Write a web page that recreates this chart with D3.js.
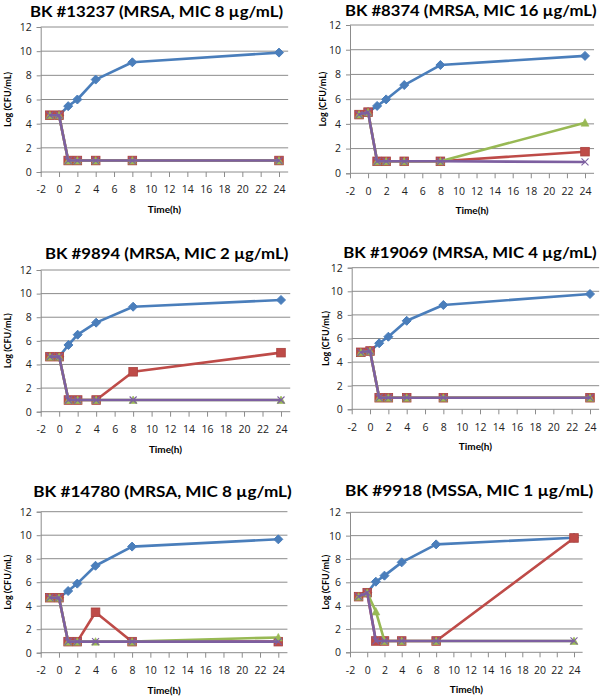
<!DOCTYPE html>
<html><head><meta charset="utf-8">
<script src="https://cdn.jsdelivr.net/npm/d3@7"></script>
<style>body{margin:0;background:#fff}svg{display:block}</style>
</head><body>
<script>
// ---- data ----
const times = [-1, 0, 1, 2, 4, 8, 24];
const xTicks = [-2, 0, 2, 4, 6, 8, 10, 12, 14, 16, 18, 20, 22, 24];
const yTicks = [0, 2, 4, 6, 8, 10, 12];
const titles = [
  "BK #13237 (MRSA, MIC 8 µg/mL)",
  "BK #8374 (MRSA, MIC 16 µg/mL)",
  "BK #9894 (MRSA, MIC 2 µg/mL)",
  "BK #19069 (MRSA, MIC 4 µg/mL)",
  "BK #14780 (MRSA, MIC 8 µg/mL)",
  "BK #9918 (MSSA, MIC 1 µg/mL)"
];
const blueData = [
  [null, 4.7, 5.45, 6.0, 7.65, 9.08, 9.88],
  [null, 4.95, 5.45, 5.98, 7.14, 8.76, 9.5],
  [null, 4.66, 5.65, 6.52, 7.54, 8.89, 9.46],
  [null, 4.94, 5.6, 6.15, 7.5, 8.84, 9.77],
  [null, 4.68, 5.25, 5.88, 7.4, 9.03, 9.65],
  [null, 5.11, 6.05, 6.57, 7.71, 9.25, 9.82]
];
const redData = [
  [4.7, 4.7, 0.95, 0.95, 0.95, 0.95, 0.95],
  [4.75, 4.95, 0.97, 0.97, 0.97, 0.97, 1.75],
  [4.66, 4.66, 0.99, 0.99, 0.99, 3.38, 5.0],
  [4.83, 4.94, 0.98, 0.98, 0.98, 0.98, 0.98],
  [4.68, 4.68, 0.94, 0.94, 3.44, 0.94, 0.94],
  [4.77, 5.11, 0.97, 0.97, 0.97, 0.97, 9.8]
];
const greenData = [
  [4.7, 4.7, 0.95, 0.95, 0.95, 0.95, 0.95],
  [4.75, 4.95, 0.97, 0.97, 0.97, 0.97, 4.1],
  [4.66, 4.66, 0.99, 0.99, 0.99, 0.99, 0.99],
  [4.83, 4.94, 0.98, 0.98, 0.98, 0.98, 0.98],
  [4.68, 4.68, 0.94, 0.94, 0.94, 0.94, 1.3],
  [4.77, 5.11, 3.5, 0.97, 0.97, 0.97, 0.97]
];
const purpleData = [
  [4.7, 4.7, 0.95, 0.95, 0.95, 0.95, 0.95],
  [4.75, 4.95, 0.97, 0.97, 0.97, 0.97, 0.92],
  [4.66, 4.66, 0.99, 0.99, 0.99, 0.99, 0.99],
  [4.83, 4.94, 0.98, 0.98, 0.98, 0.98, 0.98],
  [4.68, 4.68, 0.94, 0.94, 0.94, 0.94, 0.94],
  [4.77, 5.11, 0.97, 0.97, 0.97, 0.97, 0.97]
];

// ---- layout (pixel geometry per panel) ----
const layout = [
  {left: 40.7, x24: 279, top: 27, bottom: 172, tx0: 30, tx1: 283, ty: 17, yl: 7},
  {left: 350, x24: 585, top: 25, bottom: 173.3, tx0: 345, tx1: 596.5, ty: 16, yl: 322},
  {left: 40.7, x24: 281, top: 270, bottom: 411.7, tx0: 45, tx1: 288.3, ty: 259, yl: 7},
  {left: 351.7, x24: 590, top: 267.7, bottom: 409.3, tx0: 343.3, tx1: 596.5, ty: 258, yl: 325},
  {left: 40.7, x24: 278.3, top: 511.7, bottom: 652.7, tx0: 33.3, tx1: 291.7, ty: 496.5, yl: 7},
  {left: 350, x24: 574, top: 512.3, bottom: 652.3, tx0: 345, tx1: 593.3, ty: 496, yl: 325}
];

const W = 600, H = 698;
const svg = d3.select("body").append("svg").attr("width", W).attr("height", H)
  .style("font-family", "Lato, 'Open Sans', sans-serif");

const colors = {blue: "#4A7EBB", red: "#BE4B48", green: "#98B954", purple: "#7D5FA0"};
const grid = "#8C8C8C";
const fmt = d => String(d);

layout.forEach((L, i) => {
  const x = d3.scaleLinear().domain([-2, 25]).range([L.left, L.left + (L.x24 - L.left) * 27 / 26]);
  const y = d3.scaleLinear().domain([0, 12]).range([L.bottom, L.top]);
  const g = svg.append("g");

  // gridlines
  g.selectAll("line.grid").data(yTicks.filter(t => t > 0)).enter().append("line")
    .attr("x1", x(-2)).attr("x2", x(25))
    .attr("y1", d => y(d)).attr("y2", d => y(d))
    .attr("stroke", grid).attr("stroke-width", 1);

  // y axis
  const yAxis = d3.axisLeft(y).tickValues(yTicks).tickSize(4).tickPadding(5).tickFormat(fmt);
  const ya = g.append("g").attr("transform", `translate(${x(-2)},0)`).call(yAxis);
  ya.select(".domain").attr("stroke", grid);
  ya.selectAll(".tick line").attr("stroke", grid);
  ya.selectAll(".tick text").attr("font-size", 10.5).attr("fill", "#222")
    .style("font-family", "'Open Sans', Lato, sans-serif");

  // x axis
  const xAxis = d3.axisBottom(x).tickValues(xTicks).tickSize(5).tickPadding(9).tickFormat(fmt);
  const xa = g.append("g").attr("transform", `translate(0,${y(0)})`).call(xAxis);
  xa.select(".domain").attr("stroke", grid).attr("d", `M${x(-2)},0H${x(25)}`);
  xa.selectAll(".tick line").attr("stroke", grid);
  xa.selectAll(".tick text").attr("font-size", 10.5).attr("fill", "#222")
    .style("font-family", "'Open Sans', Lato, sans-serif");

  // title
  g.append("text").attr("x", L.tx0).attr("y", L.ty)
    .attr("font-size", 16).attr("font-weight", "bold").attr("fill", "#000")
    .attr("textLength", L.tx1 - L.tx0).attr("lengthAdjust", "spacingAndGlyphs")
    .text(titles[i]);

  // y label
  const yc = (L.top + L.bottom) / 2;
  g.append("text").attr("transform", `translate(${L.yl + 3.5},${yc}) rotate(-90)`)
    .attr("text-anchor", "middle").attr("font-size", 9).attr("font-weight", "bold")
    .text("Log (CFU/mL)");

  // x label
  g.append("text").attr("x", (x(-2) + x(25)) / 2).attr("y", y(0) + 41)
    .attr("text-anchor", "middle").attr("font-size", 10).attr("font-weight", "bold")
    .text("Time(h)");

  const line = d3.line().defined(d => d[1] != null).x(d => x(d[0])).y(d => y(d[1]));
  const series = [
    {data: blueData[i], c: colors.blue, shape: "diamond"},
    {data: redData[i], c: colors.red, shape: "square"},
    {data: greenData[i], c: colors.green, shape: "triangle"},
    {data: purpleData[i], c: colors.purple, shape: "x"}
  ];
  series.forEach(s => {
    const pts = times.map((t, k) => [t, s.data[k]]);
    g.append("path").datum(pts).attr("d", line).attr("fill", "none")
      .attr("stroke", s.c).attr("stroke-width", 2.6).attr("stroke-linejoin", "round");
    const dp = pts.filter(d => d[1] != null);
    const mk = g.selectAll(null).data(dp).enter().append("g")
      .attr("transform", d => `translate(${x(d[0])},${y(d[1])})`);
    if (s.shape === "diamond") {
      mk.append("path").attr("d", "M0,-4.5L4.5,0L0,4.5L-4.5,0Z").attr("fill", s.c).attr("stroke", s.c);
    } else if (s.shape === "square") {
      mk.append("rect").attr("x", -4.3).attr("y", -4.3).attr("width", 8.6).attr("height", 8.6)
        .attr("fill", s.c).attr("stroke", "#A9403D").attr("stroke-width", 0.8);
    } else if (s.shape === "triangle") {
      mk.append("path").attr("d", "M0,-4L4,3.5L-4,3.5Z").attr("fill", s.c).attr("stroke", s.c).attr("stroke-width", 0.6);
    } else {
      mk.append("path").attr("d", "M-3.5,-3.5L3.5,3.5M-3.5,3.5L3.5,-3.5").attr("stroke", s.c).attr("stroke-width", 1.1);
    }
  });
});
</script>
</body></html>
